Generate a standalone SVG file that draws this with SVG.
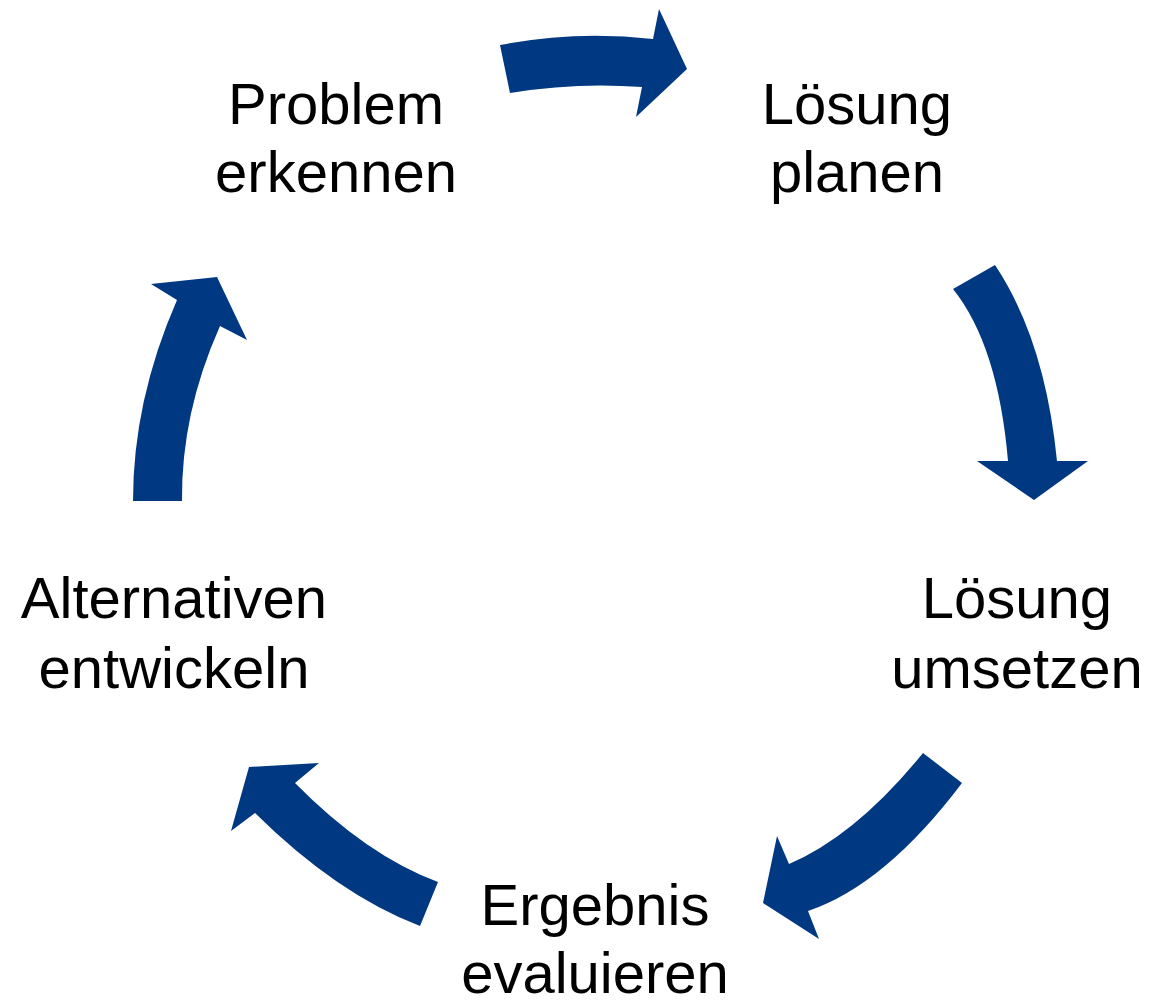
<svg xmlns="http://www.w3.org/2000/svg" width="1153" height="1008" viewBox="0 0 1153 1008">
<style>
.lbl{font-family:"Liberation Sans",Arial,sans-serif;font-size:58px;fill:#000;text-anchor:middle}
.arr{fill:#003882;stroke:none}
</style>
<rect width="1153" height="1008" fill="#fff"/>
<g id="connectors">
<path class="arr" d="M500,45 Q576,30 653,39 L659,9 L687,69 L636,117 L642,87 Q576,82 510,93 Z"/>
<path class="arr" d="M995,265 Q1045,340 1057,461 L1088,461 L1034,500 L977,461 L1008,461 Q998,345 953,289 Z"/>
<path class="arr" d="M962,783 Q885,885 808,911 L819,939 L763,903 L777,836 L789,864 Q856,835.5 923,753 Z"/>
<path class="arr" d="M420,926 Q337.5,894.5 255,813 L231,831 L249,767 L319,763 L295,783 Q366.5,855.5 438,882 Z"/>
<path class="arr" d="M133,501 Q133,400.5 177,300 L151,284 L217,277 L247,340 L220,326 Q181,413.5 182,501 Z"/>
</g>
<g id="problem-erkennen"><text class="lbl" x="336" y="124">Problem</text><text class="lbl" x="336" y="192">erkennen</text></g>
<g id="loesung-planen"><text class="lbl" x="857" y="124">Lösung</text><text class="lbl" x="857" y="192">planen</text></g>
<g id="loesung-umsetzen"><text class="lbl" x="1017" y="618">Lösung</text><text class="lbl" x="1017" y="688">umsetzen</text></g>
<g id="ergebnis-evaluieren"><text class="lbl" x="595" y="925">Ergebnis</text><text class="lbl" x="595" y="993">evaluieren</text></g>
<g id="alternativen-entwickeln"><text class="lbl" x="174" y="618">Alternativen</text><text class="lbl" x="174" y="688">entwickeln</text></g>
</svg>
